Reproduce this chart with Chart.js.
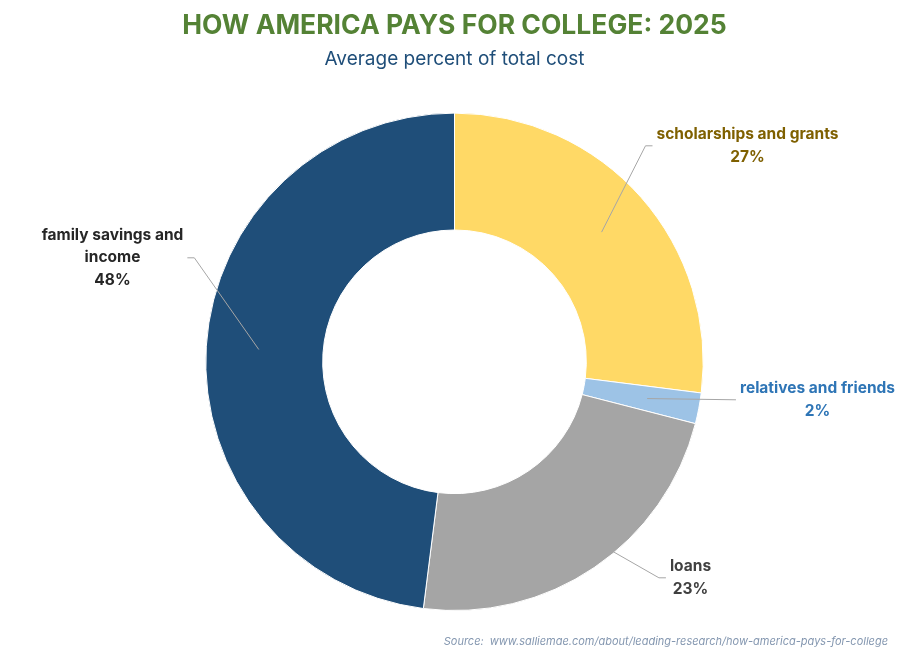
<!DOCTYPE html>
<html>
<head>
<meta charset="utf-8">
<script src="https://cdn.jsdelivr.net/npm/chart.js@4"></script>
<style>
  html, body { margin: 0; padding: 0; background: #fff; }
  #wrap { width: 909px; height: 659px; }
</style>
</head>
<body>
<div id="wrap"><canvas id="chart"></canvas></div>
<script>
const categories = ['scholarships and grants', 'relatives and friends', 'loans', 'family savings and income'];
const shares = [27, 2, 23, 48];
const sliceColors = ['#FFD966', '#9DC3E6', '#A5A5A5', '#1F4E79'];
const labelColors = ['#7F6000', '#2E75B6', '#404040', '#262626'];

// label text lines (wrapping as in the original)
const labelLines = [
  ['scholarships and grants'],
  ['relatives and friends'],
  ['loans'],
  ['family savings and', 'income']
];
// label centre offsets from pie centre, and side of the pie they sit on
const labelOffsets = [[293, -216], [363, 38], [236, 216], [-342, -104]];
const labelSide = [1, 1, 1, -1];

const FONT = 'Inter, "Open Sans", sans-serif';

const calloutPlugin = {
  id: 'callouts',
  afterDatasetsDraw(chart) {
    const ctx = chart.ctx;
    const meta = chart.getDatasetMeta(0);
    ctx.save();
    meta.data.forEach((arc, i) => {
      const cx = arc.x, cy = arc.y;
      const mid = (arc.startAngle + arc.endAngle) / 2;
      const r = arc.innerRadius + (arc.outerRadius - arc.innerRadius) * 0.55;
      const ax = cx + Math.cos(mid) * r;
      const ay = cy + Math.sin(mid) * r;

      const lines = labelLines[i].concat([shares[i] + '%']);
      const lh = 22.5;
      const lx = cx + labelOffsets[i][0];
      const ly = cy + labelOffsets[i][1];
      ctx.font = 'bold 15.5px ' + FONT;
      const w = Math.max.apply(null, lines.map(t => ctx.measureText(t).width));
      const top = ly - (lines.length - 1) * lh / 2;
      // leader line meets the label at its name line
      const lineY = lines.length === 3 ? top + lh : top + (lines.length === 2 ? lh / 2 : 0);
      const edge = labelSide[i] > 0 ? lx - w / 2 - 4 : lx + w / 2 + 4;
      const elbow = edge - labelSide[i] * 7;

      ctx.strokeStyle = '#A6A6A6';
      ctx.lineWidth = 1;
      ctx.beginPath();
      ctx.moveTo(ax, ay);
      if (Math.abs(ay - lineY) > 3) ctx.lineTo(elbow, lineY);
      ctx.lineTo(edge, lineY);
      ctx.stroke();

      ctx.fillStyle = labelColors[i];
      ctx.textAlign = 'center';
      ctx.textBaseline = 'middle';
      lines.forEach((t, k) => ctx.fillText(t, lx, top + k * lh));
    });

    ctx.font = 'italic 11px ' + FONT;
    ctx.fillStyle = '#8497B0';
    ctx.textAlign = 'right';
    ctx.textBaseline = 'middle';
    ctx.fillText('Source:  www.salliemae.com/about/leading-research/how-america-pays-for-college', 888, 642);
    ctx.restore();
  }
};

new Chart(document.getElementById('chart'), {
  type: 'doughnut',
  data: {
    labels: categories,
    datasets: [{
      data: shares,
      backgroundColor: sliceColors,
      borderColor: '#ffffff',
      borderWidth: 1
    }]
  },
  options: {
    responsive: true,
    maintainAspectRatio: false,
    animation: false,
    cutout: '53%',
    layout: { padding: { top: 0, bottom: 48, left: 0, right: 0 } },
    plugins: {
      legend: { display: false },
      tooltip: { enabled: false },
      title: {
        display: true,
        text: 'HOW AMERICA PAYS FOR COLLEGE: 2025',
        color: '#548235',
        font: { family: FONT, size: 26.5, weight: 'bold', lineHeight: 1.2 },
        padding: { top: 10, bottom: 2 }
      },
      subtitle: {
        display: true,
        text: 'Average percent of total cost',
        color: '#1F4E79',
        font: { family: FONT, size: 19, weight: 'normal', lineHeight: 1.2 },
        padding: { top: 4, bottom: 42 }
      }
    }
  },
  plugins: [calloutPlugin]
});
</script>
</body>
</html>
